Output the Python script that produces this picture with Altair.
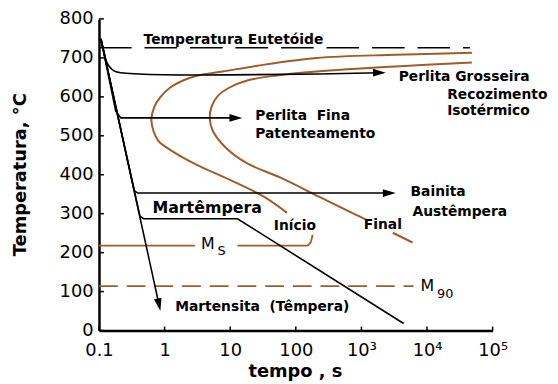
import altair as alt
import pandas as pd

FONT = "DejaVu Sans"
BROWN = "#9e5c2b"

# ---- axis ticks ----
x_ticks = [0.1, 1, 10, 100, 1000, 10000, 100000]
y_ticks = [0, 100, 200, 300, 400, 500, 600, 700, 800]

# ---- cooling paths (time s, temperature °C) ----
grossa_t = [0.107, 0.119, 0.132, 0.152, 0.187, 1880]
grossa_T = [749, 716, 688, 673, 664, 662]
fina_t = [0.107, 0.180, 0.215, 12.2]
fina_T = [749, 563, 546, 546]
bain_t = [0.107, 0.343, 0.387, 2660]
bain_T = [749, 360, 353, 353]
martemp_t = [0.107, 0.42, 0.476, 12.9, 4400]
martemp_T = [749, 294, 287, 287, 18]
marten_t = [0.107, 0.823]
marten_T = [749, 66]

# arrow heads
arrow_t = [1880, 12.2, 2660, 0.823]
arrow_T = [662, 546, 353, 66]
arrow_ang = [0, 0, 0, 78]

# ---- transformation curves ----
inicio_t = [48300, 3330, 207, 25.8, 7.67, 3.22, 1.91, 1.22, 0.861, 0.698, 0.629,
            0.675, 0.803, 1.136, 1.91, 3.22, 10.1, 33, 73.2]
inicio_T = [713, 708, 700, 680, 665, 655, 642, 624, 599, 574, 543,
            513, 487, 467, 444, 424, 386, 343, 302]
final1_t = [48300, 3330, 207, 51.7, 18.2, 9.77, 6.44, 5.23, 4.88,
            5.42, 8.51, 18.2, 57.4, 230, 832, 1262]
final1_T = [688, 678, 665, 655, 642, 624, 602, 576, 543,
            513, 470, 429, 393, 343, 297, 282]
final2_t = [3005, 6012]
final2_T = [251, 226]

# Ms and M90
ms1_t = [0.1, 2.9]
ms1_T = [218, 218]
ms2_t = [12.9, 147, 168, 180]
ms2_T = [218, 218, 226, 246]
m90_t = [0.1, 6230]
m90_T = [114, 114]
eut_t = [0.1, 45000]
eut_T = [726, 726]

# ---- labels ----
lab_left_text = ["Perlita Grosseira", "Recozimento", "Isotérmico", "Perlita\u00a0 Fina",
                 "Patenteamento", "Bainita", "Austêmpera", "Martensita\u00a0 (Têmpera)"]
lab_left_t = [3700, 20300, 20300, 24.1, 24.1, 5610, 6010, 1.45]
lab_left_T = [652, 604, 563, 551, 505, 355, 305, 61]

lab_center_text = ["Temperatura Eutetóide", "Início", "Final"]
lab_center_t = [11.2, 96.6, 2120]
lab_center_T = [746, 269, 272]

mart_text = ["Martêmpera"]
mart_t = [0.652]
mart_T = [315]

m_text = ["M", "M"]
m_t = [4.55, 10100]
m_T = [223, 114]
sub_text = ["S", "90"]
sub_t = [7.4, 18900]
sub_T = [203, 94]

xs = alt.Scale(type="log", domain=[0.1, 100000], nice=False)
ys = alt.Scale(domain=[0, 800], nice=False)

x_axis = alt.Axis(
    values=x_ticks,
    labelExpr="datum.value < 0.5 ? '0.1' : datum.value < 500 ? format(datum.value, 'd') : "
              "datum.value < 5000 ? '10³' : datum.value < 50000 ? '10⁴' : '10⁵'",
    ticks=False, grid=False, domainColor="black", domainWidth=2.5,
    labelFont=FONT, labelFontSize=18, labelColor="black", labelPadding=11,
    labelFlush=False, labelOverlap=False,
    title="tempo , s", titleFont=FONT, titleFontSize=18, titleFontWeight="bold",
    titleColor="black", titleX=198, titleY=41, titleBaseline="middle", titleAlign="center",
)
y_axis = alt.Axis(
    values=y_ticks, ticks=False, grid=False, domainColor="black", domainWidth=2.5,
    labelFont=FONT, labelFontSize=18, labelColor="black", labelPadding=6,
    labelFlush=False, labelOverlap=False,
    title="Temperatura, °C", titleFont=FONT, titleFontSize=18, titleFontWeight="bold",
    titleColor="black", titleX=-79, titleY=157, titleAngle=270,
    titleBaseline="middle", titleAlign="center",
)


def X(field):
    return alt.X(field, scale=xs, axis=x_axis)


def Y(field):
    return alt.Y(field, scale=ys, axis=y_axis)


def df(t, T):
    return pd.DataFrame({"t": t, "T": T, "i": list(range(len(t)))})


def line(t, T, color="black", width=1.6, dash=None, interp="linear"):
    kw = dict(color=color, strokeWidth=width, interpolate=interp, clip=False)
    if dash:
        kw["strokeDash"] = dash
    return alt.Chart(df(t, T)).mark_line(**kw).encode(
        x=X("t:Q"), y=Y("T:Q"), order="i:Q",
    )


def text(texts, t, T, size=14, weight="bold", align="left"):
    d = pd.DataFrame({"s": texts, "t": t, "T": T})
    return alt.Chart(d).mark_text(
        font=FONT, fontSize=size, fontWeight=weight, align=align,
        baseline="middle", color="black"
    ).encode(x=X("t:Q"), y=Y("T:Q"), text="s:N")


layers = []
layers.append(line(eut_t, eut_T, width=1.5, dash=[33, 13]))
layers.append(line(ms1_t, ms1_T, color=BROWN, width=1.8))
layers.append(line(ms2_t, ms2_T, color=BROWN, width=1.8, interp="monotone"))
layers.append(line(m90_t, m90_T, color=BROWN, width=1.6, dash=[19, 9]))
layers.append(line(inicio_t, inicio_T, color=BROWN, width=2, interp="catmull-rom"))
layers.append(line(final1_t, final1_T, color=BROWN, width=2, interp="catmull-rom"))
layers.append(line(final2_t, final2_T, color=BROWN, width=2))
layers.append(line(grossa_t, grossa_T, interp="catmull-rom"))
layers.append(line(fina_t, fina_T))
layers.append(line(bain_t, bain_T))
layers.append(line(martemp_t, martemp_T))
layers.append(line(marten_t, marten_T))

arrows = pd.DataFrame({"t": arrow_t, "T": arrow_T, "a": arrow_ang})
layers.append(
    alt.Chart(arrows).mark_point(
        shape="M-1,-0.6L1,0L-1,0.6Z", filled=True, color="black", opacity=1, size=169
    ).encode(x=X("t:Q"), y=Y("T:Q"), angle=alt.Angle("a:Q", scale=None))
)

# inward axis ticks
layers.append(
    alt.Chart(pd.DataFrame({"v": y_ticks})).mark_rule(color="black", strokeWidth=1.5).encode(
        y=Y("v:Q"), x=alt.value(0), x2=alt.value(5)
    )
)
layers.append(
    alt.Chart(pd.DataFrame({"v": x_ticks})).mark_rule(color="black", strokeWidth=1.5).encode(
        x=X("v:Q"), y=alt.value(315), y2=alt.value(311)
    )
)

layers.append(text(lab_left_text, lab_left_t, lab_left_T))
layers.append(text(lab_center_text, lab_center_t, lab_center_T, align="center"))
layers.append(text(mart_text, mart_t, mart_T, size=16))
layers.append(text(m_text, m_t, m_T, size=16, weight="normal", align="center"))
layers.append(text(sub_text, sub_t, sub_T, size=13, weight="normal", align="center"))

chart = alt.layer(*layers).properties(
    width=398,
    height=315,
    padding={"left": 92, "top": 9, "right": 58, "bottom": 52},
    autosize=alt.AutoSizeParams(type="none"),
    background="white",
).configure_view(strokeWidth=0)

chart.save("out.html", embed_options={"renderer": "svg", "actions": False})
